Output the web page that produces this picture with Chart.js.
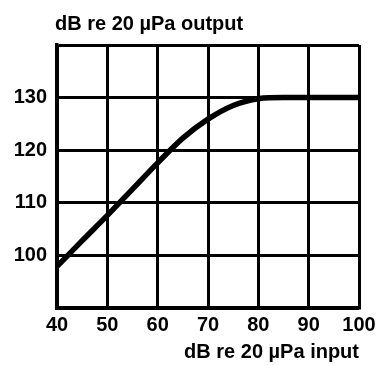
<!DOCTYPE html>
<html>
<head>
<meta charset="utf-8">
<script src="https://cdn.jsdelivr.net/npm/chart.js@4.4.1/dist/chart.umd.min.js"></script>
<style>
  html, body { margin: 0; padding: 0; background: #fff; }
  #wrap { width: 377px; height: 366px; }
</style>
</head>
<body>
<div id="wrap"><canvas id="myChart"></canvas></div>
<script>
// input level (dB re 20 uPa) and output level
const inputDb = [40, 45, 50, 55, 60, 65, 70, 75, 80, 85, 90, 100];
const outputDb = [97.9, 102.8, 107.6, 112.6, 117.6, 122.3, 125.9, 128.5, 129.8, 130, 130, 130];
const yLabels = [100, 110, 120, 130];

const yTitle = 'dB re 20 \u00b5Pa output';
const xTitle = 'dB re 20 \u00b5Pa input';
const fontFamily = '"Liberation Sans", Arial, sans-serif';

const points = inputDb.map(function(v, i) {
    return { x: v, y: outputDb[i] };
});

// y axis title sits above the plot, left aligned with the frame
const topTitle = {
    id: 'topTitle',
    afterDraw: function(chart) {
        const ctx = chart.ctx;
        ctx.save();
        ctx.font = 'bold 20px ' + fontFamily;
        ctx.fillStyle = '#000';
        ctx.textAlign = 'left';
        ctx.textBaseline = 'alphabetic';
        ctx.fillText(yTitle, chart.chartArea.left - 2, 30);
        ctx.restore();
    }
};

const config = {
    type: 'line',
    data: {
        datasets: [{
            data: points,
            borderColor: '#000',
            borderWidth: 5.5,
            pointRadius: 0,
            cubicInterpolationMode: 'monotone',
            fill: false
        }]
    },
    options: {
        responsive: true,
        maintainAspectRatio: false,
        animation: false,
        layout: {
            padding: { top: 45, right: 18, bottom: 0, left: 0 }
        },
        plugins: {
            legend: { display: false },
            tooltip: { enabled: false }
        },
        scales: {
            x: {
                type: 'linear',
                min: 40,
                max: 100,
                ticks: {
                    stepSize: 10,
                    padding: 5,
                    color: '#000',
                    font: { family: fontFamily, size: 20, weight: 'bold' }
                },
                grid: { color: '#000', lineWidth: 3, drawTicks: false },
                border: { color: '#000', width: 3.5 },
                title: {
                    display: true,
                    text: xTitle,
                    align: 'end',
                    color: '#000',
                    font: { family: fontFamily, size: 20, weight: 'bold' },
                    padding: { top: 0, bottom: 2 }
                },
                afterFit: function(scale) {
                    scale.height = 58;
                    scale.paddingLeft = 0;
                    scale.paddingRight = 0;
                }
            },
            y: {
                min: 90,
                max: 140,
                ticks: {
                    stepSize: 10,
                    padding: 10,
                    color: '#000',
                    font: { family: fontFamily, size: 20, weight: 'bold' },
                    callback: function(v) {
                        return yLabels.indexOf(v) >= 0 ? v : '';
                    }
                },
                grid: { color: '#000', lineWidth: 3, drawTicks: false },
                border: { color: '#000', width: 3.5 },
                afterFit: function(scale) { scale.width = 57; }
            }
        }
    },
    plugins: [topTitle]
};

const myChart = new Chart(document.getElementById('myChart'), config);
</script>
</body>
</html>
